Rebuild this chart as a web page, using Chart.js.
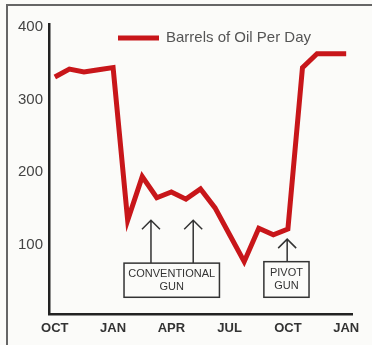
<!DOCTYPE html>
<html>
<head>
<meta charset="utf-8">
<script src="https://cdn.jsdelivr.net/npm/chart.js@4.4.1/dist/chart.umd.min.js"></script>
<style>
  html, body { margin: 0; padding: 0; background: #fbfbf9; }
  #wrap { position: relative; width: 372px; height: 345px; overflow: hidden; }
  #frame { position: absolute; left: 6px; top: 4px; right: -4px; bottom: -4px;
           border-left: 2px solid #666; border-top: 2px solid #666; }
  #chart { position: absolute; left: 0; top: 0; }
</style>
</head>
<body>
<div id="wrap">
  <div id="frame"></div>
  <canvas id="chart" width="372" height="345"></canvas>
</div>
<script>
// oil output, four readings per quarter, Oct through the following Jan
var barrels = [331, 342, 338, 341, 344, 134, 194, 165, 173, 163, 177,
               151, 114, 77, 123, 114, 122, 344, 363, 363, 363];
var quarterLabels = ['OCT', 'JAN', 'APR', 'JUL', 'OCT', 'JAN'];
var pointsPerQuarter = 4;
var yTicks = [100, 200, 300, 400];

var seriesName = 'Barrels of Oil Per Day';
var lineRed = '#c8161a';
var ink = '#333';
var labelFont = '"Liberation Sans", Arial, sans-serif';

// boxed notes under the line: box in data units, arrow tips in data units
var callouts = [
    { lines: ['CONVENTIONAL', 'GUN'], box: [4.75, 11.3, 75, 28], arrows: [[6.6, 134], [9.5, 134]] },
    { lines: ['PIVOT', 'GUN'], box: [14.35, 17.45, 77, 28], arrows: [[15.95, 108]] }
];

var points = barrels.map(function (v, i) { return { x: i, y: v }; });

var calloutPlugin = {
    id: 'callouts',
    afterDatasetsDraw: function (chart) {
        var ctx = chart.ctx;
        var xs = chart.scales.x, ys = chart.scales.y;
        ctx.save();
        ctx.strokeStyle = ink;
        ctx.fillStyle = ink;
        ctx.lineWidth = 1.5;
        callouts.forEach(function (c) {
            var x0 = xs.getPixelForValue(c.box[0]);
            var x1 = xs.getPixelForValue(c.box[1]);
            var y0 = ys.getPixelForValue(c.box[2]);
            var y1 = ys.getPixelForValue(c.box[3]);
            ctx.strokeRect(x0, y0, x1 - x0, y1 - y0);
            ctx.font = '11px ' + labelFont;
            ctx.textAlign = 'center';
            ctx.textBaseline = 'middle';
            var cx = (x0 + x1) / 2;
            var lh = 13;
            var top = (y0 + y1) / 2 - (c.lines.length - 1) * lh / 2;
            c.lines.forEach(function (t, k) { ctx.fillText(t, cx, top + k * lh); });
            c.arrows.forEach(function (a) {
                var ax = xs.getPixelForValue(a[0]);
                var ay = ys.getPixelForValue(a[1]);
                ctx.beginPath();
                ctx.moveTo(ax, y0);
                ctx.lineTo(ax, ay);
                ctx.moveTo(ax - 9, ay + 9);
                ctx.lineTo(ax, ay);
                ctx.lineTo(ax + 9, ay + 9);
                ctx.stroke();
            });
        });
        ctx.restore();
    }
};

var legendPlugin = {
    id: 'lineLegend',
    afterDraw: function (chart) {
        var ctx = chart.ctx;
        var ds = chart.data.datasets[0];
        ctx.save();
        ctx.strokeStyle = ds.borderColor;
        ctx.lineWidth = 5;
        ctx.beginPath();
        ctx.moveTo(118, 38);
        ctx.lineTo(159, 38);
        ctx.stroke();
        ctx.fillStyle = '#555';
        ctx.font = '15px ' + labelFont;
        ctx.textAlign = 'left';
        ctx.textBaseline = 'middle';
        ctx.fillText(ds.label, 166, 38);
        ctx.restore();
    }
};

var config = {
    type: 'line',
    data: {
        datasets: [{
            label: seriesName,
            data: points,
            borderColor: lineRed,
            borderWidth: 5,
            pointRadius: 0,
            tension: 0,
            borderJoinStyle: 'miter'
        }]
    },
    options: {
        responsive: false,
        animation: false,
        layout: { padding: { left: 0, top: 24, right: 20, bottom: 0 } },
        plugins: {
            legend: { display: false },
            tooltip: { enabled: false }
        },
        scales: {
            x: {
                type: 'linear',
                min: -0.4,
                max: (quarterLabels.length - 1) * pointsPerQuarter + 0.4,
                afterBuildTicks: function (scale) {
                    scale.ticks = quarterLabels.map(function (l, i) { return { value: i * pointsPerQuarter }; });
                },
                afterFit: function (scale) { scale.height = 31; },
                grid: { display: false, drawTicks: false },
                border: { display: true, color: '#222', width: 2.5 },
                ticks: {
                    padding: 7,
                    color: ink,
                    font: { family: labelFont, size: 13, weight: 'bold' },
                    maxRotation: 0,
                    autoSkip: false,
                    callback: function (v) { return quarterLabels[v / pointsPerQuarter]; }
                }
            },
            y: {
                min: 5,
                max: 404,
                afterBuildTicks: function (scale) {
                    scale.ticks = yTicks.map(function (v) { return { value: v }; });
                },
                afterFit: function (scale) { scale.width = 49; },
                grid: { display: false, drawTicks: false },
                border: { display: true, color: '#222', width: 2.5 },
                ticks: {
                    padding: 6,
                    color: '#444',
                    font: { family: labelFont, size: 15 }
                }
            }
        }
    },
    plugins: [calloutPlugin, legendPlugin]
};

var ctx = document.getElementById('chart').getContext('2d');
var oilChart = new Chart(ctx, config);
</script>
</body>
</html>
